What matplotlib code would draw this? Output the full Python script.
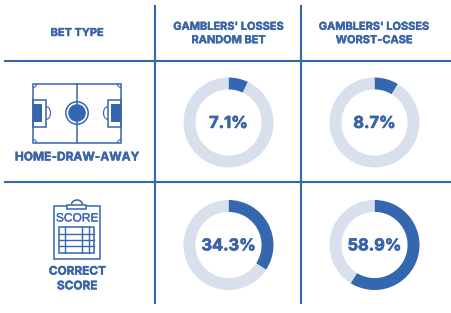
import matplotlib
matplotlib.use("Agg")
import matplotlib.pyplot as plt
import matplotlib.patheffects as pe
from matplotlib.patches import Rectangle, Circle, Arc

# Table content
col_headers = ["BET TYPE", "GAMBLERS' LOSSES\nRANDOM BET", "GAMBLERS' LOSSES\nWORST-CASE"]
row_labels = ["HOME-DRAW-AWAY", "CORRECT\nSCORE"]
random_bet = [7.1, 34.3]
worst_case = [8.7, 58.9]

W, H = 452, 313
BLUE = "#3566b0"
TEXT = "#3c65a8"
TRACK = "#d9e0ed"
FONT = "Inter"

fig = plt.figure(figsize=(W / 100, H / 100), dpi=100, facecolor="white")
ax = fig.add_axes([0, 0, 1, 1])
ax.set_xlim(0, W)
ax.set_ylim(H, 0)
ax.axis("off")


def heavy(width=0.3):
    # Thickens the bold face to a display weight
    return [pe.withStroke(linewidth=width, foreground=TEXT)]


# Grid rules
for x in (155, 301.5):
    ax.plot([x, x], [5, 304], color=BLUE, lw=1.5, solid_capstyle="butt")
for y in (60.5, 181.5):
    ax.plot([4, W], [y, y], color=BLUE, lw=1.5, solid_capstyle="butt")

# Column headers
header_x = [77, 228.5, 374]
header_y = [33, 33.5, 33.5]
for x, y, label in zip(header_x, header_y, col_headers):
    ax.text(x, y, label, ha="center", va="center", fontsize=7.9, fontweight="bold",
            color=TEXT, family=FONT, linespacing=1.42, path_effects=heavy())

# Row labels
ax.text(77, 157.5, row_labels[0], ha="center", va="center", fontsize=8.6, fontweight="bold",
        color=TEXT, family=FONT, path_effects=heavy())
ax.text(77, 279, row_labels[1], ha="center", va="center", fontsize=8.5, fontweight="bold",
        color=TEXT, family=FONT, linespacing=1.3, path_effects=heavy())


def box(x0, y0, x1, y1, **kw):
    ax.add_patch(Rectangle((x0, y0), x1 - x0, y1 - y0, **kw))


# Football pitch icon
line = dict(fill=False, ec=BLUE, lw=1.1)
box(33, 84, 121, 143, **line)
ax.plot([77, 77], [84, 143], color=BLUE, lw=1.1)
ax.add_patch(Circle((77, 113), 11.2, **line))
ax.add_patch(Circle((77, 113), 8.8, fc=BLUE, ec="none"))
box(33, 100, 46, 126.5, **line)
box(108, 100, 121, 126.5, **line)
box(33, 104, 42.5, 122, fc=BLUE, ec="none")
box(111.5, 104, 121, 122, fc=BLUE, ec="none")
ax.add_patch(Arc((46, 113), 9, 13, theta1=-90, theta2=90, ec=BLUE, lw=0.8))
ax.add_patch(Arc((108, 113), 9, 13, theta1=90, theta2=270, ec=BLUE, lw=0.8))
for cx, cy, t1 in ((33, 84, 0), (121, 84, 90), (121, 143, 180), (33, 143, 270)):
    ax.add_patch(Arc((cx, cy), 7, 7, theta1=t1, theta2=t1 + 90, ec=BLUE, lw=0.8))

# Score sheet icon
box(54, 206, 100, 259, fc="white", ec=BLUE, lw=1.1)
box(67.5, 204.5, 86.5, 209, fc="white", ec=BLUE, lw=1.1)
ax.add_patch(Arc((77, 204.5), 11, 9, theta1=180, theta2=360, ec=BLUE, lw=1.1))
ax.text(77, 218.5, "SCORE", ha="center", va="center", fontsize=8.6,
        color=TEXT, family="Liberation Sans", path_effects=heavy(0.2))
box(59.5, 227, 94.5, 252.5, **line)
for y in (233.5, 240, 246):
    ax.plot([59.5, 94.5], [y, y], color=BLUE, lw=1.0)
for x in (65, 82.5, 89):
    ax.plot([x, x], [227, 252.5], color=BLUE, lw=1.0)


def donut(cx, cy, value, r=45):
    sub = fig.add_axes([(cx - r) / W, 1 - (cy + r) / H, 2 * r / W, 2 * r / H])
    sub.pie([value, 100 - value], colors=[BLUE, TRACK], startangle=90, counterclock=False,
            radius=1.0, wedgeprops=dict(width=0.265, linewidth=0))
    sub.set_xlim(-1, 1)
    sub.set_ylim(-1, 1)
    sub.text(0, -0.02, f"{value}%", ha="center", va="center", fontsize=11.8, fontweight="bold",
             color=TEXT, family=FONT, path_effects=heavy(0.5))


for cy, rand_v, worst_v in zip((122.5, 245), random_bet, worst_case):
    donut(228.5, cy, rand_v)
    donut(374.5, cy, worst_v)

fig.savefig("out.png", dpi=100, facecolor="white")
